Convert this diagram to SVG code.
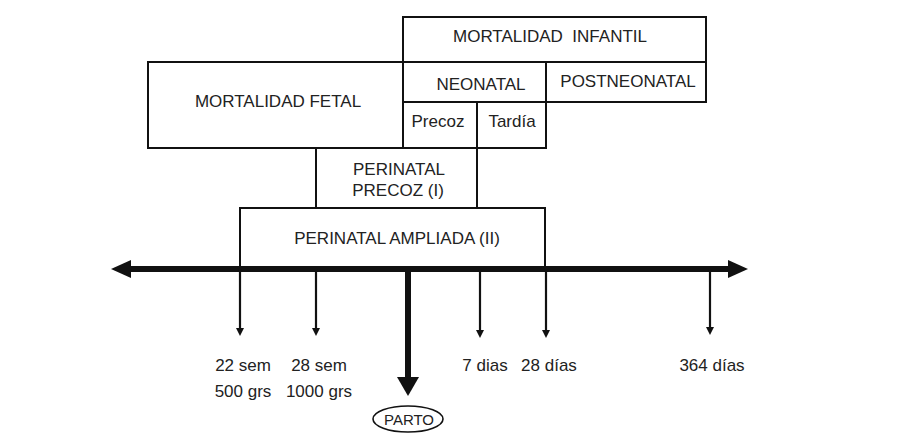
<svg xmlns="http://www.w3.org/2000/svg" width="924" height="448" viewBox="0 0 924 448">
<style>
  .box { fill: #ffffff; stroke: #111111; stroke-width: 2; }
  .t { font-family: "Liberation Sans", Arial, sans-serif; font-size: 17px; fill: #222222; text-anchor: middle; }
  .tick { stroke: #111111; stroke-width: 2.2; fill: none; }
  .head { fill: #111111; }
</style>
<rect width="924" height="448" fill="#ffffff"/>

<g id="infantil">
  <rect class="box" x="403" y="17" width="303" height="45"/>
  <text class="t" x="550" y="42">MORTALIDAD&#160;&#160;INFANTIL</text>
</g>
<g id="fetal">
  <rect class="box" x="148" y="62" width="255" height="86"/>
  <text class="t" x="278" y="107">MORTALIDAD FETAL</text>
</g>
<g id="neonatal">
  <rect class="box" x="403" y="62" width="143" height="40"/>
  <text class="t" x="481" y="90">NEONATAL</text>
</g>
<g id="postneonatal">
  <rect class="box" x="546" y="62" width="160" height="40"/>
  <text class="t" x="628" y="87">POSTNEONATAL</text>
</g>
<g id="precoz">
  <rect class="box" x="403" y="102" width="74" height="46"/>
  <text class="t" x="438" y="127">Precoz</text>
</g>
<g id="tardia">
  <rect class="box" x="477" y="102" width="69" height="46"/>
  <text class="t" x="512" y="127">Tardía</text>
</g>
<g id="perinatal-precoz">
  <rect class="box" x="316" y="148" width="161" height="60"/>
  <text class="t" x="399" y="175">PERINATAL</text>
  <text class="t" x="398" y="196">PRECOZ (I)</text>
</g>
<g id="perinatal-ampliada">
  <rect class="box" x="240" y="208" width="305" height="61"/>
  <text class="t" x="397" y="244">PERINATAL AMPLIADA (II)</text>
</g>

<g id="connectors">
  <line x1="128" y1="269" x2="731" y2="269" stroke="#111111" stroke-width="6"/>
  <polygon class="head" points="111,269 131,260 131,278"/>
  <polygon class="head" points="748,269 728,260 728,278"/>
  <line class="tick" x1="240" y1="269" x2="240" y2="330"/>
  <polygon class="head" points="236,328 244,328 240,336"/>
  <line class="tick" x1="316" y1="269" x2="316" y2="330"/>
  <polygon class="head" points="312,328 320,328 316,336"/>
  <line class="tick" x1="480" y1="269" x2="480" y2="332"/>
  <polygon class="head" points="476,330 484,330 480,338"/>
  <line class="tick" x1="546" y1="269" x2="546" y2="332"/>
  <polygon class="head" points="542,330 550,330 546,338"/>
  <line class="tick" x1="710" y1="269" x2="710" y2="329"/>
  <polygon class="head" points="706,327 714,327 710,335"/>
  <line x1="408" y1="269" x2="408" y2="380" stroke="#111111" stroke-width="6"/>
  <polygon class="head" points="397,377 419,377 408,396"/>
</g>

<g id="labels">
  <text class="t" x="243" y="371">22 sem</text>
  <text class="t" x="319" y="371">28 sem</text>
  <text class="t" x="243" y="397">500 grs</text>
  <text class="t" x="319" y="397">1000 grs</text>
  <text class="t" x="485" y="371">7 dias</text>
  <text class="t" x="549" y="371">28 días</text>
  <text class="t" x="712" y="371">364 días</text>
</g>

<g id="parto">
  <ellipse cx="408" cy="419" rx="35" ry="13" fill="#ffffff" stroke="#111111" stroke-width="1.6"/>
  <text class="t" x="409" y="424.5" style="font-size:15px">PARTO</text>
</g>
</svg>
